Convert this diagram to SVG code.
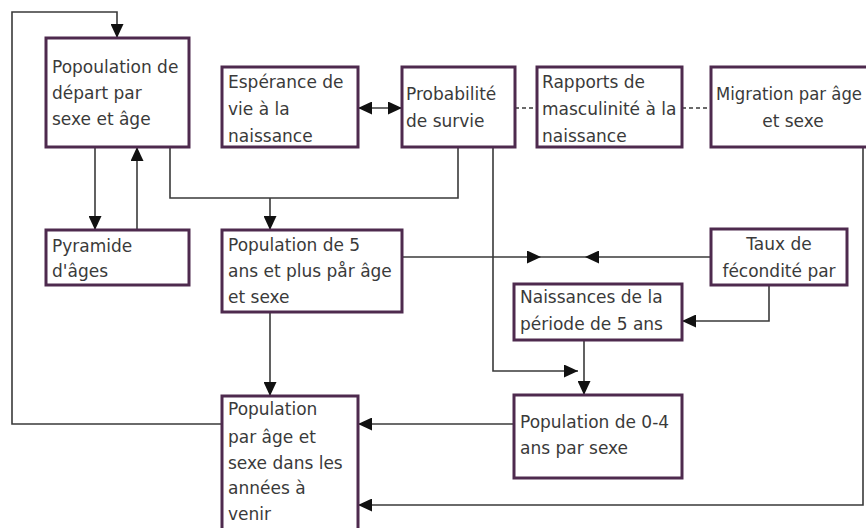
<svg xmlns="http://www.w3.org/2000/svg" width="866" height="528" viewBox="0 0 866 528">
<defs>
<style>
.box{fill:#fff;stroke:#4e2a4e;stroke-width:3}
.t{font-family:"DejaVu Sans",Verdana,sans-serif;font-size:17px;fill:#3a3a3a}
.c{text-anchor:middle}
.ln{fill:none;stroke:#3a3a3a;stroke-width:1.6}
.dash{stroke-dasharray:4,3}
</style>
<marker id="ah" markerUnits="userSpaceOnUse" markerWidth="14" markerHeight="13" refX="14" refY="6.5" orient="auto-start-reverse" viewBox="0 0 14 13">
<path d="M0,0 L14,6.5 L0,13 z" fill="#111"/>
</marker>
</defs>
<rect width="866" height="528" fill="#fff"/>
<g id="connectors">
<path class="ln" d="M222,424 H12 V12 H117 V38" marker-end="url(#ah)"/>
<path class="ln" d="M95,147 V230" marker-end="url(#ah)"/>
<path class="ln" d="M137,230 V147" marker-end="url(#ah)"/>
<path class="ln" d="M170,147 V198 H458 V147"/>
<path class="ln" d="M270,198 V230" marker-end="url(#ah)"/>
<path class="ln" d="M358,108 H402" marker-start="url(#ah)" marker-end="url(#ah)"/>
<path class="ln dash" d="M515,108 H537"/>
<path class="ln dash" d="M682,108 H711"/>
<path class="ln" d="M863,147 V505 H358" marker-end="url(#ah)"/>
<path class="ln" d="M493,147 V371 H578" marker-end="url(#ah)"/>
<path class="ln" d="M584,340 V395" marker-end="url(#ah)"/>
<path class="ln" d="M402,257 H541" marker-end="url(#ah)"/>
<path class="ln" d="M541,257 H585"/>
<path class="ln" d="M711,257 H585" marker-end="url(#ah)"/>
<path class="ln" d="M769,285 V321 H682" marker-end="url(#ah)"/>
<path class="ln" d="M270,312 V396" marker-end="url(#ah)"/>
<path class="ln" d="M514,424 H358" marker-end="url(#ah)"/>
</g>
<g id="depart">
<rect class="box" x="46" y="38" width="143" height="109"/>
<text class="t" x="52" y="73">Popoulation de</text>
<text class="t" x="52" y="99">départ par</text>
<text class="t" x="52" y="125">sexe et âge</text>
</g>
<g id="esperance">
<rect class="box" x="222" y="67" width="136" height="80"/>
<text class="t" x="228" y="88">Espérance de</text>
<text class="t" x="228" y="115">vie à la</text>
<text class="t" x="228" y="142">naissance</text>
</g>
<g id="probabilite">
<rect class="box" x="402" y="67" width="113" height="80"/>
<text class="t" x="406" y="100">Probabilité</text>
<text class="t" x="406" y="127">de survie</text>
</g>
<g id="rapports">
<rect class="box" x="537" y="67" width="145" height="80"/>
<text class="t" x="542" y="88">Rapports de</text>
<text class="t" x="542" y="115">masculinité à la</text>
<text class="t" x="542" y="142">naissance</text>
</g>
<g id="migration">
<rect class="box" x="711" y="67" width="170" height="80"/>
<text class="t" x="716" y="100" textLength="146" lengthAdjust="spacingAndGlyphs">Migration par âge</text>
<text class="t c" x="793" y="127">et sexe</text>
</g>
<g id="pyramide">
<rect class="box" x="46" y="230" width="143" height="55"/>
<text class="t" x="52" y="252">Pyramide</text>
<text class="t" x="52" y="277">d'âges</text>
</g>
<g id="pop5">
<rect class="box" x="222" y="230" width="180" height="82"/>
<text class="t" x="228" y="251">Population de 5</text>
<text class="t" x="228" y="277">ans et plus pår âge</text>
<text class="t" x="228" y="303">et sexe</text>
</g>
<g id="taux">
<rect class="box" x="711" y="229" width="136" height="56"/>
<text class="t c" x="779" y="250">Taux de</text>
<text class="t c" x="779" y="277">fécondité par</text>
</g>
<g id="naissances">
<rect class="box" x="514" y="284" width="168" height="56"/>
<text class="t" x="520" y="303">Naissances de la</text>
<text class="t" x="520" y="330">période de 5 ans</text>
</g>
<g id="pop04">
<rect class="box" x="514" y="395" width="168" height="83"/>
<text class="t" x="520" y="428">Population de 0-4</text>
<text class="t" x="520" y="454">ans par sexe</text>
</g>
<g id="popfutur">
<rect class="box" x="222" y="396" width="136" height="140"/>
<text class="t" x="228" y="415">Population</text>
<text class="t" x="228" y="443">par âge et</text>
<text class="t" x="228" y="469">sexe dans les</text>
<text class="t" x="228" y="494">années à</text>
<text class="t" x="228" y="520">venir</text>
</g>
</svg>
